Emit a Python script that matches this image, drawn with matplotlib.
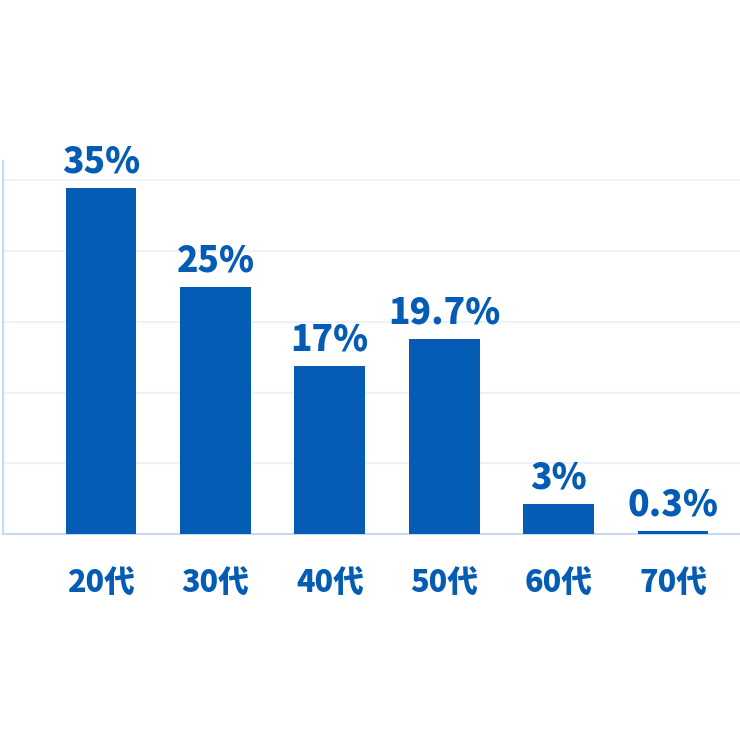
import numpy as np
import matplotlib.pyplot as plt

# 年代別の割合
kategorien = ['20代', '30代', '40代', '50代', '60代', '70代']
werte = [35, 25, 17, 19.7, 3, 0.3]
beschriftung = ['35%', '25%', '17%', '19.7%', '3%', '0.3%']

blau = '#045CB4'
gitter = '#EDF2F8'
achse = '#C8D9EE'

fig = plt.figure(figsize=(7.4, 7.4), dpi=100)
ax = fig.add_axes([3 / 740, 206 / 740, 737 / 740, 373 / 740])

x = np.arange(len(kategorien))
ax.bar(x, werte, width=0.618, color=blau, zorder=3)

# Prozentwerte über den Balken
for xi, wert, text in zip(x, werte, beschriftung):
    ax.annotate(text, (xi, wert), xytext=(0, 6), textcoords='offset points',
                ha='center', va='bottom', fontsize=25.5, fontweight='black',
                family=['Noto Sans CJK JP', 'DejaVu Sans'], color=blau, zorder=4)

ax.set_xlim(-0.857, 5.586)
ax.set_ylim(0, 37.7)
ax.set_yticks(np.arange(1, 6) * 7.15)
ax.yaxis.grid(True, color=gitter, linewidth=1.5, zorder=0)
ax.tick_params(axis='y', left=False, labelleft=False)

ax.set_xticks(x)
ax.set_xticklabels(kategorien, fontsize=22, fontweight='black',
                   family=['Noto Sans CJK JP', 'DejaVu Sans'], color=blau)
ax.tick_params(axis='x', length=0, pad=24)

for seite in ['top', 'right']:
    ax.spines[seite].set_visible(False)
ax.spines['left'].set_color(achse)
ax.spines['bottom'].set_color(achse)
ax.spines['left'].set_linewidth(1.5)
ax.spines['bottom'].set_linewidth(1.5)

fig.savefig('out.png', dpi=100, facecolor='white')
